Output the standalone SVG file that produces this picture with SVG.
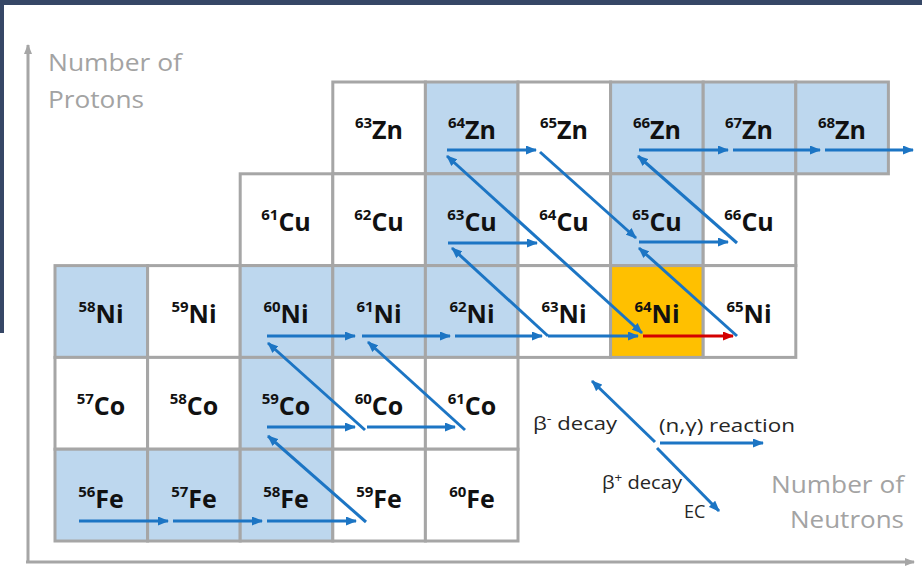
<svg xmlns="http://www.w3.org/2000/svg" width="922" height="569" viewBox="0 0 922 569">
<defs>
<marker id="ab" markerUnits="userSpaceOnUse" markerWidth="11" markerHeight="9" refX="10" refY="4.5" orient="auto-start-reverse"><path d="M0,0 L11,4.5 L0,9 z" fill="#1C75C4"/></marker>
<marker id="ar" markerUnits="userSpaceOnUse" markerWidth="11" markerHeight="9" refX="10" refY="4.5" orient="auto"><path d="M0,0 L11,4.5 L0,9 z" fill="#D40000"/></marker>
<marker id="ag" markerUnits="userSpaceOnUse" markerWidth="10" markerHeight="8" refX="9" refY="4" orient="auto"><path d="M0,0 L10,4 L0,8 z" fill="#A6A6A6"/></marker>
</defs>
<style>
.c{stroke:#A6A6A6;stroke-width:3}
.w{fill:#FFFFFF}
.b{fill:#BDD7EE}
.o{fill:#FFC000}
.t{font-family:"Open Sans","Liberation Sans",sans-serif;font-weight:bold;fill:#111;text-anchor:middle}
.s{font-size:15px}
.e{font-size:25px}
.l{stroke:#1C75C4;stroke-width:3;fill:none;marker-end:url(#ab)}
.ax{stroke:#A6A6A6;stroke-width:3;fill:none;marker-end:url(#ag)}
.al{font-family:"Open Sans","Liberation Sans",sans-serif;font-size:23px;fill:#A3A3A3}
.lg{font-family:"Open Sans","Liberation Sans",sans-serif;font-size:18px;fill:#262626}
</style>
<rect x="0" y="0" width="922" height="569" fill="#FFFFFF"/>
<rect x="0" y="0" width="922" height="5" fill="#364766"/>
<rect x="0" y="0" width="4" height="333" fill="#364766"/>

<g id="axes">
<line class="ax" x1="28" y1="563" x2="28" y2="45"/>
<line class="ax" x1="26" y1="562" x2="914" y2="562"/>
<text class="al" x="48" y="71" textLength="134" lengthAdjust="spacingAndGlyphs">Number of</text>
<text class="al" x="48" y="108" textLength="96" lengthAdjust="spacingAndGlyphs">Protons</text>
<text class="al" x="771" y="493" textLength="133" lengthAdjust="spacingAndGlyphs">Number of</text>
<text class="al" x="790" y="528" textLength="114" lengthAdjust="spacingAndGlyphs">Neutrons</text>
</g>

<!-- Zn row -->
<g id="zn63"><rect class="c w" x="332.8" y="82" width="92.6" height="91.8"/><text class="t" x="379" y="139"><tspan class="s" dy="-11">63</tspan><tspan class="e" dy="11">Zn</tspan></text></g>
<g id="zn64"><rect class="c b" x="425.4" y="82" width="92.6" height="91.8"/><text class="t" x="472" y="139"><tspan class="s" dy="-11">64</tspan><tspan class="e" dy="11">Zn</tspan></text></g>
<g id="zn65"><rect class="c w" x="518" y="82" width="92.6" height="91.8"/><text class="t" x="564" y="139"><tspan class="s" dy="-11">65</tspan><tspan class="e" dy="11">Zn</tspan></text></g>
<g id="zn66"><rect class="c b" x="610.6" y="82" width="92.6" height="91.8"/><text class="t" x="657" y="139"><tspan class="s" dy="-11">66</tspan><tspan class="e" dy="11">Zn</tspan></text></g>
<g id="zn67"><rect class="c b" x="703.2" y="82" width="92.6" height="91.8"/><text class="t" x="749" y="139"><tspan class="s" dy="-11">67</tspan><tspan class="e" dy="11">Zn</tspan></text></g>
<g id="zn68"><rect class="c b" x="795.8" y="82" width="92.6" height="91.8"/><text class="t" x="842" y="139"><tspan class="s" dy="-11">68</tspan><tspan class="e" dy="11">Zn</tspan></text></g>

<!-- Cu row -->
<g id="cu61"><rect class="c w" x="240.2" y="173.8" width="92.6" height="91.8"/><text class="t" x="286" y="231"><tspan class="s" dy="-11">61</tspan><tspan class="e" dy="11">Cu</tspan></text></g>
<g id="cu62"><rect class="c w" x="332.8" y="173.8" width="92.6" height="91.8"/><text class="t" x="379" y="231"><tspan class="s" dy="-11">62</tspan><tspan class="e" dy="11">Cu</tspan></text></g>
<g id="cu63"><rect class="c b" x="425.4" y="173.8" width="92.6" height="91.8"/><text class="t" x="472" y="231"><tspan class="s" dy="-11">63</tspan><tspan class="e" dy="11">Cu</tspan></text></g>
<g id="cu64"><rect class="c w" x="518" y="173.8" width="92.6" height="91.8"/><text class="t" x="564" y="231"><tspan class="s" dy="-11">64</tspan><tspan class="e" dy="11">Cu</tspan></text></g>
<g id="cu65"><rect class="c b" x="610.6" y="173.8" width="92.6" height="91.8"/><text class="t" x="657" y="231"><tspan class="s" dy="-11">65</tspan><tspan class="e" dy="11">Cu</tspan></text></g>
<g id="cu66"><rect class="c w" x="703.2" y="173.8" width="92.6" height="91.8"/><text class="t" x="749" y="231"><tspan class="s" dy="-11">66</tspan><tspan class="e" dy="11">Cu</tspan></text></g>

<!-- Ni row -->
<g id="ni58"><rect class="c b" x="55" y="265.6" width="92.6" height="91.8"/><text class="t" x="101" y="323"><tspan class="s" dy="-11">58</tspan><tspan class="e" dy="11">Ni</tspan></text></g>
<g id="ni59"><rect class="c w" x="147.6" y="265.6" width="92.6" height="91.8"/><text class="t" x="194" y="323"><tspan class="s" dy="-11">59</tspan><tspan class="e" dy="11">Ni</tspan></text></g>
<g id="ni60"><rect class="c b" x="240.2" y="265.6" width="92.6" height="91.8"/><text class="t" x="286" y="323"><tspan class="s" dy="-11">60</tspan><tspan class="e" dy="11">Ni</tspan></text></g>
<g id="ni61"><rect class="c b" x="332.8" y="265.6" width="92.6" height="91.8"/><text class="t" x="379" y="323"><tspan class="s" dy="-11">61</tspan><tspan class="e" dy="11">Ni</tspan></text></g>
<g id="ni62"><rect class="c b" x="425.4" y="265.6" width="92.6" height="91.8"/><text class="t" x="472" y="323"><tspan class="s" dy="-11">62</tspan><tspan class="e" dy="11">Ni</tspan></text></g>
<g id="ni63"><rect class="c w" x="518" y="265.6" width="92.6" height="91.8"/><text class="t" x="564" y="323"><tspan class="s" dy="-11">63</tspan><tspan class="e" dy="11">Ni</tspan></text></g>
<g id="ni64"><rect class="c o" x="610.6" y="265.6" width="92.6" height="91.8"/><text class="t" x="657" y="323"><tspan class="s" dy="-11">64</tspan><tspan class="e" dy="11">Ni</tspan></text></g>
<g id="ni65"><rect class="c w" x="703.2" y="265.6" width="92.6" height="91.8"/><text class="t" x="749" y="323"><tspan class="s" dy="-11">65</tspan><tspan class="e" dy="11">Ni</tspan></text></g>

<!-- Co row -->
<g id="co57"><rect class="c w" x="55" y="357.4" width="92.6" height="91.8"/><text class="t" x="101" y="415"><tspan class="s" dy="-11">57</tspan><tspan class="e" dy="11">Co</tspan></text></g>
<g id="co58"><rect class="c w" x="147.6" y="357.4" width="92.6" height="91.8"/><text class="t" x="194" y="415"><tspan class="s" dy="-11">58</tspan><tspan class="e" dy="11">Co</tspan></text></g>
<g id="co59"><rect class="c b" x="240.2" y="357.4" width="92.6" height="91.8"/><text class="t" x="286" y="415"><tspan class="s" dy="-11">59</tspan><tspan class="e" dy="11">Co</tspan></text></g>
<g id="co60"><rect class="c w" x="332.8" y="357.4" width="92.6" height="91.8"/><text class="t" x="379" y="415"><tspan class="s" dy="-11">60</tspan><tspan class="e" dy="11">Co</tspan></text></g>
<g id="co61"><rect class="c w" x="425.4" y="357.4" width="92.6" height="91.8"/><text class="t" x="472" y="415"><tspan class="s" dy="-11">61</tspan><tspan class="e" dy="11">Co</tspan></text></g>

<!-- Fe row -->
<g id="fe56"><rect class="c b" x="55" y="449.2" width="92.6" height="91.8"/><text class="t" x="101" y="508"><tspan class="s" dy="-11">56</tspan><tspan class="e" dy="11">Fe</tspan></text></g>
<g id="fe57"><rect class="c b" x="147.6" y="449.2" width="92.6" height="91.8"/><text class="t" x="194" y="508"><tspan class="s" dy="-11">57</tspan><tspan class="e" dy="11">Fe</tspan></text></g>
<g id="fe58"><rect class="c b" x="240.2" y="449.2" width="92.6" height="91.8"/><text class="t" x="286" y="508"><tspan class="s" dy="-11">58</tspan><tspan class="e" dy="11">Fe</tspan></text></g>
<g id="fe59"><rect class="c w" x="332.8" y="449.2" width="92.6" height="91.8"/><text class="t" x="379" y="508"><tspan class="s" dy="-11">59</tspan><tspan class="e" dy="11">Fe</tspan></text></g>
<g id="fe60"><rect class="c w" x="425.4" y="449.2" width="92.6" height="91.8"/><text class="t" x="472" y="508"><tspan class="s" dy="-11">60</tspan><tspan class="e" dy="11">Fe</tspan></text></g>

<g id="connectors">
<!-- (n,gamma) -->
<line class="l" x1="79" y1="521" x2="168" y2="521"/>
<line class="l" x1="173" y1="521" x2="262" y2="521"/>
<line class="l" x1="267" y1="521" x2="356" y2="521"/>
<line class="l" x1="267" y1="427" x2="355" y2="427"/>
<line class="l" x1="367" y1="427" x2="455" y2="427"/>
<line class="l" x1="267" y1="336" x2="355" y2="336"/>
<line class="l" x1="362" y1="336" x2="450" y2="336"/>
<line class="l" x1="455" y1="336" x2="542" y2="336"/>
<line class="l" x1="548" y1="336" x2="638" y2="336"/>
<line x1="643" y1="336" x2="733" y2="336" stroke="#D40000" stroke-width="3" marker-end="url(#ar)"/>
<line class="l" x1="448" y1="243" x2="537" y2="243"/>
<line class="l" x1="639" y1="242" x2="728" y2="242"/>
<line class="l" x1="447" y1="150" x2="536" y2="150"/>
<line class="l" x1="639" y1="150" x2="728" y2="150"/>
<line class="l" x1="733" y1="150" x2="820" y2="150"/>
<line class="l" x1="825" y1="150" x2="913" y2="150"/>
<!-- beta- decays -->
<line class="l" x1="366" y1="522" x2="268" y2="436"/>
<line class="l" x1="365" y1="430" x2="268" y2="343"/>
<line class="l" x1="465" y1="430" x2="368" y2="342"/>
<line class="l" x1="548" y1="336" x2="452" y2="248"/>
<line class="l" x1="737" y1="336" x2="639" y2="248"/>
<line class="l" x1="737" y1="243" x2="638" y2="156"/>
<!-- 64Cu: beta- to 64Zn and EC to 64Ni -->
<line class="l" x1="447" y1="156" x2="642" y2="333" style="marker-start:url(#ab)"/>
<!-- EC 65Zn -> 65Cu -->
<line class="l" x1="540" y1="152" x2="636" y2="238"/>
</g>

<g id="legend">
<line class="l" x1="655" y1="442" x2="592" y2="381"/>
<line class="l" x1="657" y1="448" x2="719" y2="511"/>
<line class="l" x1="660" y1="443" x2="763" y2="443"/>
<text class="lg" x="533" y="430" textLength="84" lengthAdjust="spacingAndGlyphs">β<tspan font-size="12" dy="-7">-</tspan><tspan dy="7"> decay</tspan></text>
<text class="lg" x="602" y="489" textLength="80" lengthAdjust="spacingAndGlyphs">β<tspan font-size="12" dy="-7">+</tspan><tspan dy="7"> decay</tspan></text>
<text class="lg" x="684" y="518">EC</text>
<text class="lg" x="659" y="432" textLength="136" lengthAdjust="spacingAndGlyphs">(n,γ) reaction</text>
</g>
</svg>
